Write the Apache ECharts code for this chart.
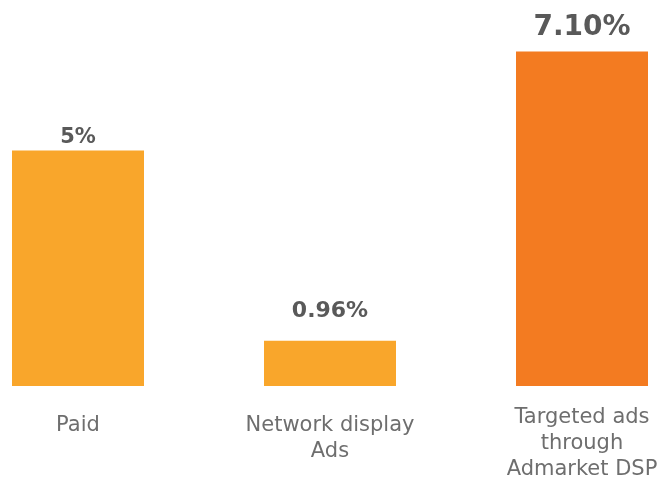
<!DOCTYPE html>
<html>
<head>
<meta charset="utf-8">
<script src="https://cdn.jsdelivr.net/npm/echarts@6/dist/echarts.min.js"></script>
<style>
  html, body { margin: 0; padding: 0; background: #fff; }
  #chart { width: 666px; height: 478px; }
</style>
</head>
<body>
<div id="chart"></div>
<script>
// Channel names and their conversion rates (%)
const categories = ['Paid', 'Network display\nAds', 'Targeted ads\nthrough\nAdmarket DSP'];
const rates = [5, 0.96, 7.10];
const rateLabels = ['5%', '0.96%', '7.10%'];
const barColors = ['#F9A62B', '#F9A62B', '#F37B21'];
const labelSizes = [21, 22, 28];
const labelGaps = [2, 18, 10];

const chart = echarts.init(document.getElementById('chart'));

chart.setOption({
  animation: false,
  grid: { left: 78, right: 84, top: 28, bottom: 92, outerBoundsMode: 'none', containLabel: false },
  xAxis: {
    type: 'category',
    boundaryGap: false,
    data: categories.map((c, i) => ({
      value: c,
      textStyle: i === 2 ? { padding: [-8, 0, 0, 0] } : {}
    })),
    axisLine: { show: false },
    axisTick: { show: false },
    axisLabel: {
      interval: 0,
      margin: 27,
      fontFamily: 'DejaVu Sans',
      fontSize: 21,
      lineHeight: 26,
      color: '#6e6e6e',
      verticalAlign: 'top'
    }
  },
  yAxis: {
    type: 'value',
    min: 0,
    max: 7.6,
    show: false,
    splitLine: { show: false }
  },
  series: [{
    type: 'bar',
    barWidth: 132,
    clip: false,
    data: rates.map((v, i) => ({
      value: v,
      itemStyle: { color: barColors[i] },
      label: {
        show: true,
        position: 'top',
        distance: labelGaps[i],
        formatter: rateLabels[i],
        fontFamily: 'DejaVu Sans',
        fontWeight: 'bold',
        fontSize: labelSizes[i],
        color: '#595959'
      }
    }))
  }]
});
</script>
</body>
</html>
